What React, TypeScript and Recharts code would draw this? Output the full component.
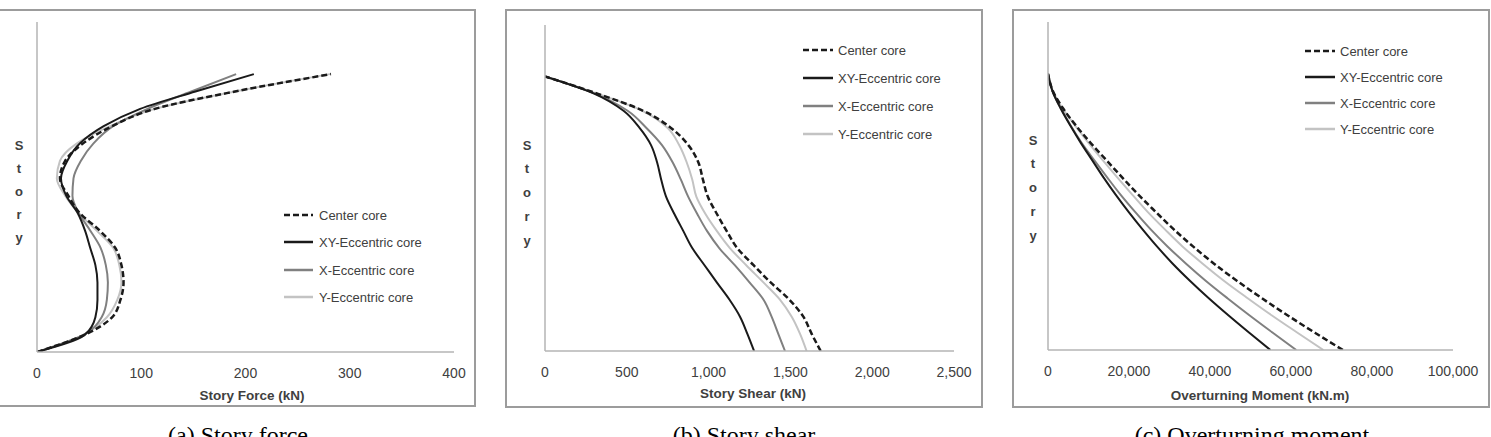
import React from 'react';
import { LineChart, Line, XAxis, YAxis } from 'recharts';

// ---- data (story 0 .. 16) ----
const stories = [0, 1, 2, 3, 4, 5, 6, 7, 8, 9, 10, 11, 12, 13, 14, 15, 16];
const seriesNames = ['Center core', 'XY-Eccentric core', 'X-Eccentric core', 'Y-Eccentric core'];

// (a) Story force (kN)
const forceCenter = [0, 46, 72, 80, 83, 81, 75, 60, 41, 30, 22, 27, 44, 72, 113, 190, 282];
const forceXY = [0, 46, 56, 58, 58, 56, 51, 46, 39, 28, 23, 29, 41, 64, 99, 152, 208];
const forceX = [0, 45, 62, 67, 68, 66, 61, 51, 40, 34, 35, 42, 54, 73, 106, 148, 191];
const forceY = [0, 45, 67, 77, 81, 79, 73, 57, 40, 27, 19, 22, 38, 70, 113, 190, 281];
const forceTicks = [0, 100, 200, 300, 400];

// (b) Story shear (kN)
const shearCenter = [1685, 1630, 1579, 1493, 1379, 1275, 1175, 1110, 1050, 995, 965, 937, 876, 770, 600, 320, 0];
const shearXY = [1278, 1237, 1192, 1127, 1050, 975, 900, 845, 790, 740, 710, 685, 648, 578, 480, 300, 0];
const shearX = [1467, 1426, 1385, 1335, 1250, 1160, 1065, 990, 930, 875, 830, 780, 715, 620, 505, 305, 0];
const shearY = [1599, 1559, 1508, 1436, 1335, 1230, 1130, 1050, 980, 925, 900, 866, 820, 750, 595, 320, 0];
const shearTicks = [0, 500, 1000, 1500, 2000, 2500];

// (c) Overturning moment (kN.m)
const otmCenter = [72800, 65900, 59200, 52800, 46700, 41000, 35800, 31000, 26600, 22300, 18300, 14400, 10500, 6900, 3700, 1200, 0];
const otmXY = [54900, 49700, 44600, 39700, 35100, 30800, 26900, 23300, 19900, 16700, 13700, 10900, 8100, 5500, 3100, 1100, 0];
const otmX = [61300, 55500, 49800, 44300, 39000, 34100, 29500, 25300, 21500, 17900, 14600, 11400, 8300, 5600, 3200, 1100, 0];
const otmY = [68000, 61600, 55300, 49300, 43500, 38200, 33200, 28800, 24600, 20800, 17100, 13500, 10000, 6700, 3600, 1200, 0];
const otmTicks = [0, 20000, 40000, 60000, 80000, 100000];

const build = (c: number[], xy: number[], x: number[], y: number[]) =>
  stories.map((s, i) => ({ story: s, center: c[i], xy: xy[i], xecc: x[i], yecc: y[i] }));

const forceData = build(forceCenter, forceXY, forceX, forceY);
const shearData = build(shearCenter, shearXY, shearX, shearY);
const otmData = build(otmCenter, otmXY, otmX, otmY);

const FONT = '"Liberation Sans", Arial, sans-serif';
const TEXT = '#404040';
const AXIS = '#b4b4b4';

const styles = [
  { key: 'yecc', stroke: '#c3c3c3', width: 2, dash: undefined as string | undefined },
  { key: 'xecc', stroke: '#808080', width: 2, dash: undefined as string | undefined },
  { key: 'xy', stroke: '#1a1a1a', width: 2, dash: undefined as string | undefined },
  { key: 'center', stroke: '#1a1a1a', width: 2.5, dash: '6 3' as string | undefined },
];

type PanelProps = {
  data: any[];
  left: number;
  width: number;
  height: number;
  top: number;
  right: number;
  yAxisW: number;
  xAxisH: number;
  max: number;
  ticks: number[];
};

function Panel(p: PanelProps) {
  return (
    <div style={{ position: 'absolute', left: p.left, top: 0, width: p.width, height: p.height }}>
      <LineChart
        width={p.width}
        height={p.height}
        data={p.data}
        layout="vertical"
        margin={{ top: p.top, right: p.right, left: 0, bottom: 0 }}
      >
        <XAxis
          type="number"
          domain={[0, p.max]}
          ticks={p.ticks}
          interval={0}
          allowDataOverflow
          height={p.xAxisH}
          axisLine={{ stroke: AXIS, strokeWidth: 1.5 }}
          tickLine={false}
          tickSize={0}
          tickMargin={16}
          tick={{ fontSize: 14, fill: TEXT, fontFamily: FONT }}
          tickFormatter={(v: number) => v.toLocaleString('en-US')}
        />
        <YAxis
          type="number"
          dataKey="story"
          domain={[0, 19]}
          reversed
          allowDataOverflow
          width={p.yAxisW}
          tick={false}
          tickLine={false}
          axisLine={{ stroke: AXIS, strokeWidth: 1.5 }}
        />
        {styles.map((s) => (
          <Line
            key={s.key}
            dataKey={s.key}
            type="monotone"
            stroke={s.stroke}
            strokeWidth={s.width}
            strokeDasharray={s.dash}
            dot={false}
            activeDot={false}
            isAnimationActive={false}
          />
        ))}
      </LineChart>
    </div>
  );
}

const legendStyles = [
  { stroke: '#1a1a1a', width: 2.5, dash: '6 3' },
  { stroke: '#1a1a1a', width: 2.5, dash: undefined as string | undefined },
  { stroke: '#808080', width: 2.5, dash: undefined as string | undefined },
  { stroke: '#c3c3c3', width: 2.5, dash: undefined as string | undefined },
];

function LegendBlock({ x1, x2, tx, ys }: { x1: number; x2: number; tx: number; ys: number[] }) {
  return (
    <g>
      {seriesNames.map((n, i) => (
        <g key={n}>
          <line x1={x1} x2={x2} y1={ys[i]} y2={ys[i]} stroke={legendStyles[i].stroke} strokeWidth={legendStyles[i].width} strokeDasharray={legendStyles[i].dash} />
          <text x={tx} y={ys[i]} dy="0.35em" fontSize={13} fill={TEXT} fontFamily={FONT}>{n}</text>
        </g>
      ))}
    </g>
  );
}

function StoryLabel({ x, y0, step }: { x: number; y0: number; step: number }) {
  const letters = ['S', 't', 'o', 'r', 'y'];
  return (
    <g>
      {letters.map((l, i) => (
        <text key={i} x={x} y={y0 + i * step} dy="0.35em" textAnchor="middle" fontSize={13} fontWeight="bold" fill={TEXT} fontFamily={FONT}>{l}</text>
      ))}
    </g>
  );
}

const border = (left: number, top: number, right: number, bottom: number): React.CSSProperties => ({
  position: 'absolute',
  left: left - 1,
  top: top - 1,
  width: right - left + 2,
  height: bottom - top + 2,
  border: '2px solid #9c9c9c',
  boxSizing: 'border-box',
});

export default function App() {
  return (
    <div style={{ position: 'absolute', left: 0, top: 0, width: 1491, height: 437, overflow: 'hidden', background: '#fff' }}>
      <div style={border(-1, 10, 475, 406)} />
      <div style={border(506, 10, 982, 407)} />
      <div style={border(1013, 10, 1489, 407)} />

      <Panel data={forceData} left={0} width={475} height={406} top={22} right={21} yAxisW={37} xAxisH={54} max={400} ticks={forceTicks} />
      <Panel data={shearData} left={506} width={476} height={407} top={25} right={28} yAxisW={39} xAxisH={56} max={2500} ticks={shearTicks} />
      <Panel data={otmData} left={1013} width={476} height={407} top={22} right={36} yAxisW={35} xAxisH={57} max={100000} ticks={otmTicks} />

      <svg width={1491} height={437} style={{ position: 'absolute', left: 0, top: 0, pointerEvents: 'none' }}>
        <LegendBlock x1={284} x2={313} tx={319} ys={[215, 242, 270, 297]} />
        <LegendBlock x1={803} x2={833} tx={838} ys={[50, 78, 106, 134]} />
        <LegendBlock x1={1305} x2={1335} tx={1340} ys={[51, 77, 103, 129]} />

        <StoryLabel x={19} y0={145} step={23} />
        <StoryLabel x={527} y0={145} step={23.75} />
        <StoryLabel x={1033} y0={140} step={23.75} />

        <text x={252} y={395} dy="0.35em" textAnchor="middle" fontSize={13.5} fontWeight="bold" fill={TEXT} fontFamily={FONT}>Story Force (kN)</text>
        <text x={753} y={393} dy="0.35em" textAnchor="middle" fontSize={13.5} fontWeight="bold" fill={TEXT} fontFamily={FONT}>Story Shear (kN)</text>
        <text x={1260} y={395} dy="0.35em" textAnchor="middle" fontSize={13.5} fontWeight="bold" fill={TEXT} fontFamily={FONT}>Overturning Moment (kN.m)</text>

        <text x={238} y={443} textAnchor="middle" fontSize={24} fill="#000" fontFamily='"Liberation Serif", "Times New Roman", serif'>(a) Story force</text>
        <text x={744} y={443} textAnchor="middle" fontSize={24} fill="#000" fontFamily='"Liberation Serif", "Times New Roman", serif'>(b) Story shear</text>
        <text x={1252} y={443} textAnchor="middle" fontSize={24} fill="#000" fontFamily='"Liberation Serif", "Times New Roman", serif'>(c) Overturning moment</text>
      </svg>
    </div>
  );
}
